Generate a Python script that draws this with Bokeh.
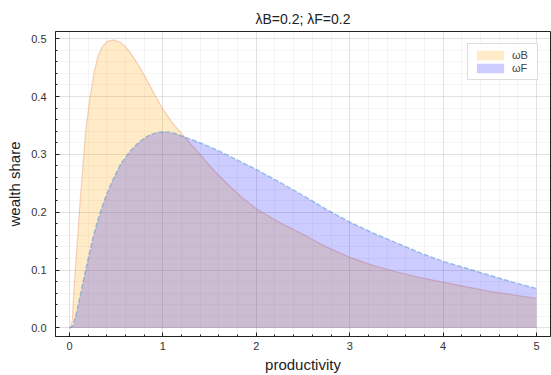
from bokeh.plotting import figure
from bokeh.models import FixedTicker, Range1d, Legend, LegendItem
from bokeh.embed import file_html
from bokeh.resources import INLINE
import numpy as np

title_text = "λB=0.2; λF=0.2"
x_label = "productivity"
y_label = "wealth share"
names = ["ωB", "ωF"]

xB = [0, 0.01, 0.03, 0.04, 0.064, 0.09, 0.114, 0.143, 0.171, 0.214, 0.261, 0.3, 0.35, 0.4,
      0.47, 0.55, 0.6, 0.65, 0.7, 0.75, 0.83, 0.92, 1.0, 1.1, 1.2, 1.36, 1.54, 1.72, 1.85, 2.0,
      2.25, 2.5, 2.75, 3.0, 3.25, 3.5, 3.75, 4.0, 4.25, 4.5, 4.75, 5.0]
wB = [0, 0.0, 0.013, 0.045, 0.105, 0.163, 0.22, 0.278, 0.336, 0.393, 0.439, 0.467, 0.486, 0.495,
      0.498, 0.493, 0.486, 0.476, 0.464, 0.451, 0.428, 0.401, 0.378, 0.355, 0.336, 0.307, 0.273, 0.244, 0.225, 0.206,
      0.182, 0.162, 0.14, 0.122, 0.108, 0.097, 0.087, 0.079, 0.071, 0.063, 0.057, 0.051]

xF = [0, 0.04, 0.08, 0.12, 0.16, 0.2, 0.25, 0.3, 0.35, 0.4, 0.47, 0.55, 0.65, 0.75, 0.82, 0.88, 0.94,
      1.0, 1.06, 1.13, 1.25, 1.4, 1.6, 1.8, 2.0, 2.25, 2.5, 2.75, 3.0, 3.25, 3.5, 3.75, 4.0,
      4.25, 4.5, 4.75, 5.0]
wF = [0, 0.004, 0.03, 0.06, 0.09, 0.12, 0.155, 0.185, 0.21, 0.232, 0.258, 0.284, 0.306, 0.322, 0.33, 0.335, 0.338,
      0.339, 0.3385, 0.336, 0.329, 0.32, 0.306, 0.29, 0.274, 0.252, 0.229, 0.205, 0.183, 0.164, 0.147, 0.13, 0.115,
      0.103, 0.091, 0.079, 0.068]

x_ticks = [0, 1, 2, 3, 4, 5]
y_ticks = [0.0, 0.1, 0.2, 0.3, 0.4, 0.5]

FONT = "Liberation Sans"

p = figure(width=551, height=375, x_range=Range1d(-0.15, 5.15), y_range=Range1d(-0.0149, 0.5125),
           output_backend="svg", toolbar_location=None,
           min_border_left=55, min_border_right=1, min_border_top=31, min_border_bottom=37)

p.title.text = title_text
p.title.align = "center"
p.title.text_font = FONT
p.title.text_font_size = "14px"
p.title.text_font_style = "normal"
p.title.text_color = "#222222"
p.title.offset = -14

p.outline_line_color = "#222222"
p.outline_line_width = 1
p.background_fill_color = "white"
p.border_fill_color = "white"

vB = p.varea(x=xB, y1=[0]*len(xB), y2=wB, fill_color="#FFA500", fill_alpha=0.22)
lB = p.line(xB, wB, line_color="#E36F47", line_alpha=0.3, line_width=1.2)
vF = p.varea(x=xF, y1=[0]*len(xF), y2=wF, fill_color="#0000FF", fill_alpha=0.2)
lF = p.line(xF, wF, line_color="#3D8FD0", line_alpha=0.45, line_width=1.5, line_dash="5 2")

legend = Legend(items=[LegendItem(label=names[0], renderers=[vB]),
                       LegendItem(label=names[1], renderers=[vF])],
                location="top_right")
legend.margin = 12
legend.padding = 5
legend.spacing = 1
legend.glyph_width = 34
legend.glyph_height = 12
legend.label_text_font = FONT
legend.label_text_font_size = "11px"
legend.label_standoff = 5
legend.border_line_color = "#dddddd"
legend.border_line_alpha = 1
legend.background_fill_alpha = 1
p.add_layout(legend)

xminor = [round(v, 2) for v in np.arange(-0.2, 5.21, 0.2)]
yminor = [round(v, 3) for v in np.arange(0.0, 0.521, 0.02)]
p.xaxis.ticker = FixedTicker(ticks=x_ticks, minor_ticks=xminor)
p.yaxis.ticker = FixedTicker(ticks=y_ticks, minor_ticks=yminor)
p.yaxis.major_label_overrides = {0.0: "0.0", 0.1: "0.1", 0.2: "0.2", 0.3: "0.3", 0.4: "0.4", 0.5: "0.5"}

for ax in (p.xaxis[0], p.yaxis[0]):
    ax.axis_line_color = "#222222"
    ax.major_tick_in = 4
    ax.major_tick_out = 0
    ax.minor_tick_in = 2
    ax.minor_tick_out = 0
    ax.major_tick_line_color = "#222222"
    ax.minor_tick_line_color = "#222222"
    ax.major_label_text_font = FONT
    ax.major_label_text_font_size = "11px"
    ax.major_label_text_color = "#333333"
    ax.axis_label_text_font = FONT
    ax.axis_label_text_font_size = "15px"
    ax.axis_label_text_font_style = "normal"
    ax.axis_label_text_color = "#222222"

p.xaxis.axis_label = x_label
p.yaxis.axis_label = y_label
p.xaxis.major_label_standoff = 5
p.xaxis.axis_label_standoff = 3
p.yaxis.major_label_standoff = 9
p.yaxis.axis_label_standoff = 5

for g in (p.xgrid[0], p.ygrid[0]):
    g.grid_line_color = "#000000"
    g.grid_line_alpha = 0.08
    g.minor_grid_line_color = "#000000"
    g.minor_grid_line_alpha = 0.035

open("out.html", "w").write(file_html(p, INLINE))
